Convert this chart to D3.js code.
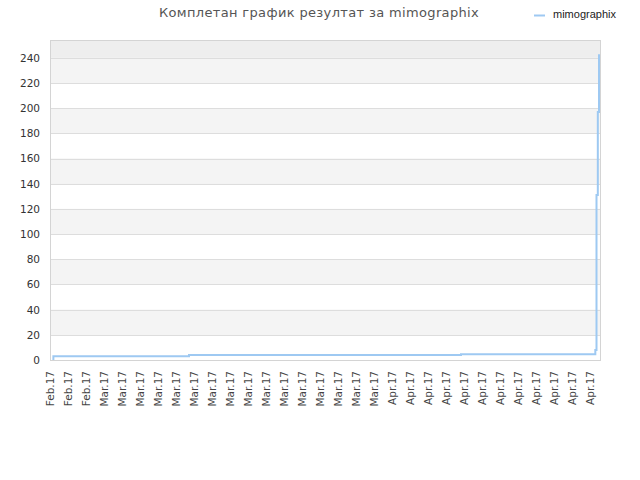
<!DOCTYPE html>
<html>
<head>
<meta charset="utf-8">
<script src="https://cdn.jsdelivr.net/npm/d3@7/dist/d3.min.js"></script>
<style>
  body { margin: 0; background: #fff; }
  svg { font-family: "DejaVu Sans", sans-serif; }
</style>
</head>
<body>
<div id="chart"></div>
<script>
// step series
const seriesName = "mimographix";
const pointDates = [
  "2017-02-23T08:00", "2017-02-23T09:00", "2017-03-10T10:40", "2017-04-09T16:00",
  "2017-04-24T14:10", "2017-04-24T17:20", "2017-04-24T20:50", "2017-04-25T00:00",
  "2017-04-25T02:40"
];
const pointValues = [0, 3, 4, 4.5, 8, 131, 197, 242, 242];
const yTicks = [0, 20, 40, 60, 80, 100, 120, 140, 160, 180, 200, 220, 240];
const xStart = "2017-02-23T00:00";
const xEnd = "2017-04-25T02:40";

const parse = d3.timeParse("%Y-%m-%dT%H:%M");
const data = pointDates.map((d, i) => ({ date: parse(d), value: pointValues[i] }));

const width = 640, height = 480;
const margin = { top: 40, right: 40, bottom: 120, left: 50 };
const w = width - margin.left - margin.right;
const h = height - margin.top - margin.bottom;

const svg = d3.select("#chart").append("svg")
  .attr("width", width)
  .attr("height", height);

// title + legend
svg.append("text")
  .attr("x", 319).attr("y", 17)
  .attr("text-anchor", "middle")
  .attr("font-size", 13)
  .attr("letter-spacing", 0.35)
  .attr("fill", "#555")
  .text("Комплетан график резултат за mimographix");

svg.append("line")
  .attr("x1", 534).attr("x2", 545).attr("y1", 15.5).attr("y2", 15.5)
  .attr("stroke", "#9ec9f2").attr("stroke-width", 2);
svg.append("text")
  .attr("x", 553).attr("y", 18)
  .attr("font-family", "Liberation Sans, Arial, sans-serif")
  .attr("font-size", 11)
  .attr("fill", "#222")
  .text(seriesName);

const g = svg.append("g")
  .attr("transform", "translate(" + margin.left + "," + margin.top + ")");

const x = d3.scaleTime()
  .domain([parse(xStart), parse(xEnd)])
  .range([0, w]);
const y = d3.scaleLinear()
  .domain([0, d3.max(pointValues) * 1.05])
  .range([h, 0]);

// plot background and alternating bands
g.append("rect")
  .attr("width", w).attr("height", h)
  .attr("fill", "#eeeeee");

g.selectAll(".band")
  .data(yTicks.slice(0, -1))
  .enter().append("rect")
  .attr("class", "band")
  .attr("x", 0)
  .attr("width", w)
  .attr("y", (d, i) => y(yTicks[i + 1]))
  .attr("height", (d, i) => y(d) - y(yTicks[i + 1]))
  .attr("fill", (d, i) => i % 2 === 0 ? "#ffffff" : "#f4f4f4");

g.selectAll(".grid")
  .data(yTicks.slice(1))
  .enter().append("line")
  .attr("class", "grid")
  .attr("x1", 0).attr("x2", w)
  .attr("y1", d => Math.round(y(d)) + 0.5)
  .attr("y2", d => Math.round(y(d)) + 0.5)
  .attr("stroke", "#dddddd");

// y axis labels
const yAxis = g.append("g")
  .call(d3.axisLeft(y).tickValues(yTicks).tickSize(0).tickPadding(10));
yAxis.select(".domain").remove();
yAxis.selectAll("text")
  .attr("font-size", 10.5)
  .attr("font-family", "DejaVu Sans, sans-serif")
  .attr("fill", "#333");

// x axis labels every second day
const tickDates = d3.timeDay.range(parse(xStart), parse(xEnd)).filter((d, i) => i % 2 === 0);
const xAxis = g.append("g")
  .attr("transform", "translate(0," + h + ")")
  .call(d3.axisBottom(x).tickValues(tickDates).tickFormat(d3.timeFormat("%b.%y")).tickSize(0));
xAxis.select(".domain").remove();
xAxis.selectAll("text")
  .attr("font-size", 10.5)
  .attr("font-family", "DejaVu Sans, sans-serif")
  .attr("fill", "#444")
  .attr("text-anchor", "end")
  .attr("transform", "translate(0,11) rotate(-90)")
  .attr("x", 0).attr("y", 0).attr("dy", "0.35em");

// the line
const line = d3.line()
  .x(d => x(d.date))
  .y(d => y(d.value))
  .curve(d3.curveStepAfter);

g.append("path")
  .datum(data)
  .attr("fill", "none")
  .attr("stroke", "#9ec9f2")
  .attr("stroke-width", 2)
  .attr("d", line);

// frame
g.append("rect")
  .attr("x", 0.5).attr("y", 0.5)
  .attr("width", w).attr("height", h)
  .attr("fill", "none")
  .attr("stroke", "#d4d4d4");
</script>
</body>
</html>
